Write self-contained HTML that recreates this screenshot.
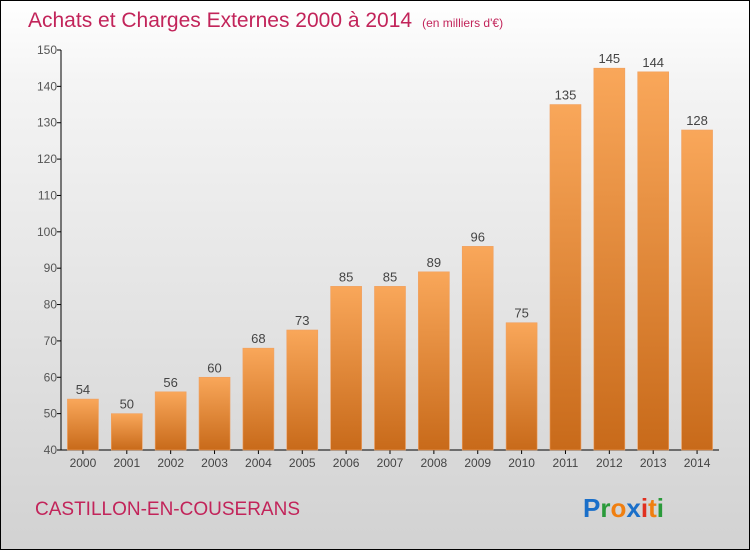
<!DOCTYPE html>
<html><head><meta charset="utf-8"><style>
html,body{margin:0;padding:0}
body{width:750px;height:550px;overflow:hidden;font-family:"Liberation Sans",sans-serif}
#wrap{position:relative;width:748px;height:548px;border:1px solid #000;background:linear-gradient(#ffffff,#f4f4f4 15%,#d2d2d2)}
</style></head><body>
<div id="wrap">
<svg width="748" height="548" style="position:absolute;left:0;top:0">
<defs><linearGradient id="bg" x1="0" y1="0" x2="0" y2="1"><stop offset="0" stop-color="#f9a75a"/><stop offset="1" stop-color="#c86a1a"/></linearGradient></defs>
<text x="27" y="26" font-size="21" fill="#c2245a">Achats et Charges Externes 2000 à 2014<tspan font-size="12" dx="10">(en milliers d'€)</tspan></text>
<g id="axes"></g><g id="bars"></g>
<text x="34" y="514" font-size="19" fill="#c2245a">CASTILLON-EN-COUSERANS</text>
<g font-size="26" font-weight="bold" font-family="'Liberation Sans',sans-serif">
<text x="582" y="516"><tspan fill="#1a6fc9">P</tspan><tspan fill="#2a9a3a">r</tspan><tspan fill="#f07f10">o</tspan><tspan fill="#1a6fc9">x</tspan><tspan fill="#e03020">i</tspan><tspan fill="#f07f10">t</tspan><tspan fill="#2a9a3a">i</tspan></text></g>
</svg></div>
<script>
const years=["2000","2001","2002","2003","2004","2005","2006","2007","2008","2009","2010","2011","2012","2013","2014"];
const values=[54,50,56,60,68,73,85,85,89,96,75,135,145,144,128];
const ticks=[40,50,60,70,80,90,100,110,120,130,140,150];
const NS="http://www.w3.org/2000/svg";
const x0=60,x1=718,yb=449,yt=49,vmin=40,vmax=150;
const step=(x1-x0)/years.length;
const y=v=>yb-(v-vmin)/(vmax-vmin)*(yb-yt);
const xc=i=>x0+step*(i+0.5);
function mk(t,a,p){const e=document.createElementNS(NS,t);for(const k in a)e.setAttribute(k,a[k]);p.appendChild(e);return e;}
const ax=document.getElementById('axes'),bg=document.getElementById('bars');
let l=mk('line',{x1:x0,y1:yt,x2:x0,y2:yb,stroke:'#000'},ax);


l=mk('line',{x1:x0,y1:yb,x2:x1,y2:yb,stroke:'#000'},ax);


ticks.forEach(t=>{
 mk('line',{x1:x0-4,y1:y(t),x2:x0,y2:y(t),stroke:'#000'},ax);
 const tx=mk('text',{x:x0-4,y:y(t)+4,'font-size':12,'text-anchor':'end',fill:'#555'},ax);
 tx.textContent=t;
 
 
});
years.forEach((yr,i)=>{
 mk('line',{x1:xc(i),y1:yb,x2:xc(i),y2:yb+4,stroke:'#000'},ax);
 const tx=mk('text',{x:xc(i),y:yb+17,'font-size':12,'text-anchor':'middle',fill:'#444'},ax);
 tx.textContent=yr;
 
 
 const b=mk('rect',{x:xc(i)-15.5,y:y(values[i]),width:31,height:yb-y(values[i]),fill:'url(#bg)',stroke:'#f0a060','stroke-width':0.6},bg);
 
 
 const v=mk('text',{x:xc(i),y:y(values[i])-5,'font-size':13,'text-anchor':'middle',fill:'#444'},bg);
 v.textContent=values[i];
 
 
});
</script>
</body></html>
